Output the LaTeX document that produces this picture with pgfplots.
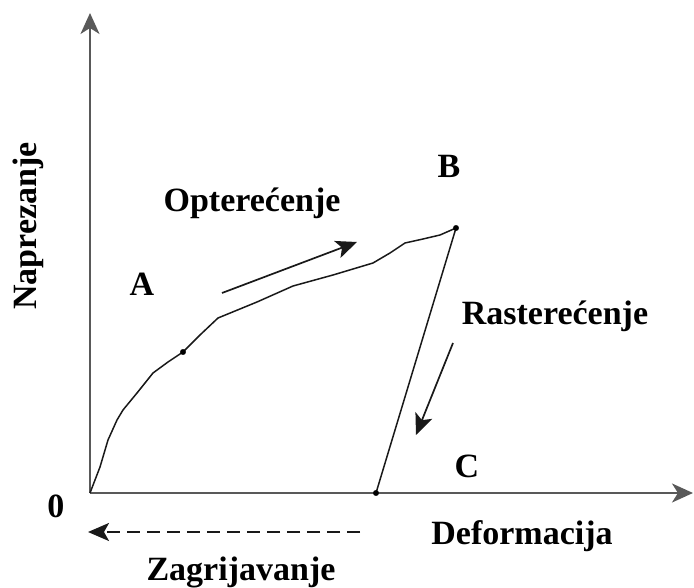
\documentclass[border=0pt]{standalone}
\usepackage{fontspec}
\setmainfont{Liberation Serif}
\usepackage{pgfplots}
\pgfplotsset{compat=1.18}
\usetikzlibrary{arrows.meta}

% loading curve (origin at the axis corner)
\pgfplotstableread{
x y
0 0
10 26
18 53
27 73
33 83
47 100
63 120
78 131
93 141
110 158
128 175
167 191
203 207
243 218
283 230
300 240
315 250
333 254
350 258
366 265
}\loading

\begin{document}
\begin{tikzpicture}[
    lbl/.style={font=\fontsize{34}{40}\selectfont\bfseries, anchor=base, inner sep=0pt},
    arr/.style={line width=1.7pt, black!90, -{Stealth[length=21pt,width=18pt,inset=5pt]}},
]
\begin{axis}[
    scale only axis,
    width=603pt, height=480pt,
    xmin=0, xmax=603, ymin=0, ymax=480,
    axis lines=left,
    axis line style={-{Stealth[length=21pt,width=19pt,inset=6pt]}, line width=1.9pt, black!65},
    xtick=\empty, ytick=\empty,
    clip=false,
]
% frame the picture like the original sketch
\path (axis cs:-90,-94) rectangle (axis cs:604,493);

\addplot[black!90, line width=1.5pt, no marks] table {\loading};
\addplot[black!90, line width=1.5pt, no marks] coordinates {(366,265) (286,0)};
\addplot[only marks, mark=*, mark size=2.7pt, black] coordinates {(93,141) (366,265) (286,0)};

% direction arrows
\addplot[arr] coordinates {(132,200) (267,251)};
\addplot[arr] coordinates {(363,150) (326,58)};
\addplot[arr, dash pattern=on 13pt off 7pt, line width=2.2pt] coordinates {(270,-39) (-2,-39)};

\node[lbl, rotate=90] at (axis cs:-53,267) {Naprezanje};
\node[lbl] at (axis cs:162,281) {Opterećenje};
\node[lbl] at (axis cs:465,168) {Rasterećenje};
\node[lbl] at (axis cs:52,197) {A};
\node[lbl] at (axis cs:359,315) {B};
\node[lbl] at (axis cs:377,16) {C};
\node[lbl] at (axis cs:-34,-24) {0};
\node[lbl] at (axis cs:432,-51) {Deformacija};
\node[lbl] at (axis cs:151,-87) {Zagrijavanje};
\end{axis}
\end{tikzpicture}
\end{document}
